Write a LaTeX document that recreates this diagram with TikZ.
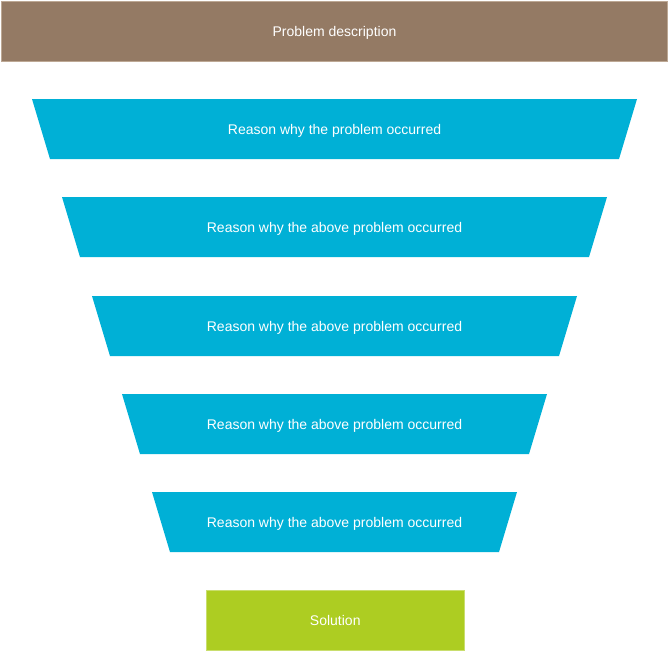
\documentclass[tikz,border=0pt]{standalone}
\usepackage{fontspec}
\setmainfont{Liberation Sans}
\definecolor{brownbox}{HTML}{947A64}
\definecolor{brownedge}{HTML}{BDA894}
\definecolor{cyanbox}{HTML}{00B0D6}
\definecolor{greenbox}{HTML}{ADCD22}
\definecolor{greenedge}{HTML}{C9DE6E}
\begin{document}
\begin{tikzpicture}[x=1pt,y=-1pt,
  lbl/.style={text=white,font=\fontsize{14}{16}\selectfont,inner sep=0pt,text height=10pt,text depth=3pt,yshift=-1.8pt},
  why/.style={fill=cyanbox,draw=none}]
\useasboundingbox (0,0) rectangle (669,651);
\fill[white] (0,0) rectangle (669,651);
% problem description
\draw[fill=brownbox,draw=brownedge] (1.5,1.5) rectangle (667.5,61) node[midway,lbl] (prob) {Problem description};
% reasons
\fill[why] (32,99) -- (637,99) -- (619,159) -- (50,159) -- cycle;
\node[lbl] (r1) at (334.5,129) {Reason why the problem occurred};
\fill[why] (62,197) -- (607,197) -- (589,257) -- (80,257) -- cycle;
\node[lbl] (r2) at (334.5,227) {Reason why the above problem occurred};
\fill[why] (92,296) -- (577,296) -- (559,356) -- (110,356) -- cycle;
\node[lbl] (r3) at (334.5,326) {Reason why the above problem occurred};
\fill[why] (122,394) -- (547,394) -- (529,454) -- (140,454) -- cycle;
\node[lbl] (r4) at (334.5,424) {Reason why the above problem occurred};
\fill[why] (152,492) -- (517,492) -- (499,552) -- (170,552) -- cycle;
\node[lbl] (r5) at (334.5,522) {Reason why the above problem occurred};
% solution
\draw[fill=greenbox,draw=greenedge] (206.5,590.5) rectangle (464,650) node[midway,lbl] (sol) {Solution};
\end{tikzpicture}
\end{document}
